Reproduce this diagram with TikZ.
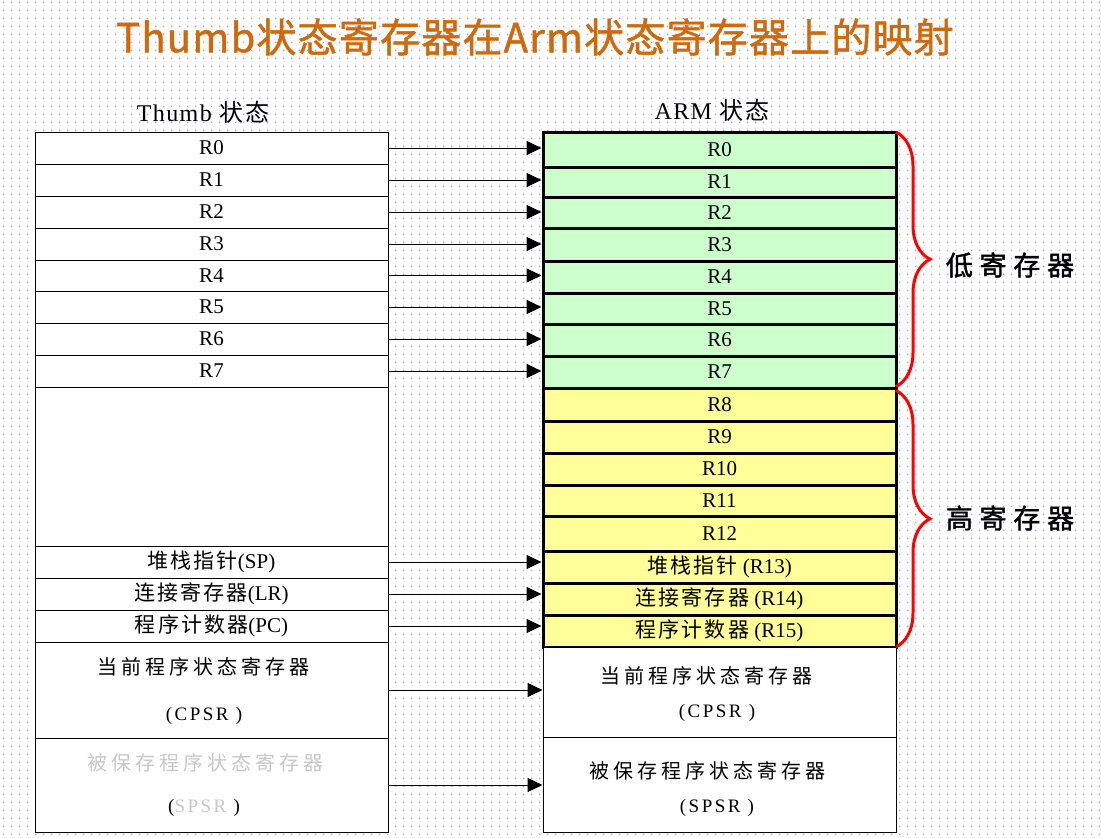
\documentclass[tikz,border=0pt]{standalone}
\usepackage{fontspec}
\setmainfont{Liberation Serif}
\newfontfamily\cjk{Noto Sans CJK SC}[LetterSpace=10]
\newfontfamily\cjkw{Noto Sans CJK SC}[LetterSpace=20]
\newfontfamily\cjkh{Noto Sans CJK SC}[LetterSpace=8]
\newfontfamily\cjkb{Noto Sans CJK SC}[LetterSpace=25,FakeBold=1.5]
\newfontfamily\titlefont{Noto Sans CJK SC}[LetterSpace=3,FakeBold=1.2]
\newfontfamily\serifw{Liberation Serif}[LetterSpace=13]
\newfontfamily\serifh{Liberation Serif}[LetterSpace=6]
\usetikzlibrary{arrows.meta,decorations.pathreplacing,patterns.meta}
\definecolor{dotc}{RGB}{165,165,220}
\definecolor{gcol}{RGB}{204,255,204}
\definecolor{ycol}{RGB}{255,255,153}
\definecolor{tcol}{RGB}{206,106,12}
\definecolor{lgrey}{RGB}{200,200,200}
\tikzdeclarepattern{
  name=bgdots,
  type=colored,
  bottom left={(0pt,0pt)},
  top right={(7.5pt,7.5pt)},
  tile size={(7.5pt,7.5pt)},
  code={\fill[dotc] (3pt,3pt) rectangle (4.6pt,4.6pt);}
}
\begin{document}
\begin{tikzpicture}[x=1pt,y=-1pt,
  lrow/.style={draw, line width=1pt, fill=white, minimum width=353pt, inner sep=0pt, font=\fontsize{21}{22}\selectfont},
  rrow/.style={draw, line width=3pt, minimum width=353pt, inner sep=0pt, font=\fontsize{21}{22}\selectfont},
  rbox/.style={draw, line width=1pt, fill=white, minimum width=353pt, inner sep=0pt},
  greenrow/.style={rrow, fill=gcol},
  yellowrow/.style={rrow, fill=ycol},
  arr/.style={line width=1pt, -{Triangle[length=15pt,width=14pt]}},
  brc/.style={draw=red, line width=3pt, decorate, decoration={brace, amplitude=34pt}},
  head/.style={font=\serifh\fontsize{24}{26}\selectfont},
  cjtxt/.style={inner sep=0pt, font=\cjkw\fontsize{20}{22}\selectfont},
  partxt/.style={inner sep=0pt, font=\serifw\fontsize{19}{22}\selectfont},
  side/.style={font=\cjkb\fontsize{27}{30}\selectfont}
]
\useasboundingbox (0,0) rectangle (1101,838);
\fill[white] (0,0) rectangle (1101,838);
\fill[pattern=bgdots] (0,0) rectangle (1101,838);

% title and headers
\node[text=tcol, font=\titlefont\fontsize{40}{44}\selectfont] (title) at (535,37) {Thumb状态寄存器在Arm状态寄存器上的映射};
\node[head] (th) at (203,112) {Thumb {\cjkh 状态}};
\node[head] (ah) at (712,110) {ARM {\cjkh 状态}};

% left column (Thumb)
\node[lrow, minimum height=32pt] (L0) at (211.5,148) {R0};
\node[lrow, minimum height=32pt] (L1) at (211.5,180) {R1};
\node[lrow, minimum height=32pt] (L2) at (211.5,212) {R2};
\node[lrow, minimum height=32pt] (L3) at (211.5,244) {R3};
\node[lrow, minimum height=31pt] (L4) at (211.5,275.5) {R4};
\node[lrow, minimum height=32pt] (L5) at (211.5,307) {R5};
\node[lrow, minimum height=32pt] (L6) at (211.5,339) {R6};
\node[lrow, minimum height=32pt] (L7) at (211.5,371) {R7};
\node[lrow, minimum height=159pt] (LE) at (211.5,466.5) {};
\node[lrow, minimum height=32pt] (LSP) at (211.5,562) {{\cjk 堆栈指针}(SP)};
\node[lrow, minimum height=32pt] (LLR) at (211.5,594) {{\cjk 连接寄存器}(LR)};
\node[lrow, minimum height=32pt] (LPC) at (211.5,626) {{\cjk 程序计数器}(PC)};
\node[lrow, minimum height=96pt] (LC) at (211.5,690) {};
\node[lrow, minimum height=94pt] (LS) at (211.5,785) {};
\node[cjtxt] (LCa) at (203,667) {当前程序状态寄存器};
\node[partxt] (LCb) at (204,716) {(CPSR )};
\node[cjtxt, text=lgrey] (LSa) at (205,763) {被保存程序状态寄存器};
\node[partxt] (LSb) at (204,808) {(\textcolor{lgrey}{SPSR} )};

% right column (ARM)
\node[greenrow, minimum height=35pt] (R0) at (719.5,149.5) {R0};
\node[greenrow, minimum height=30pt] (R1) at (719.5,182) {\raisebox{-2pt}{R1}};
\node[greenrow, minimum height=31pt] (R2) at (719.5,212.5) {R2};
\node[greenrow, minimum height=33pt] (R3) at (719.5,244.5) {\raisebox{-1pt}{R3}};
\node[greenrow, minimum height=32pt] (R4) at (719.5,277) {R4};
\node[greenrow, minimum height=31pt] (R5) at (719.5,308.5) {R5};
\node[greenrow, minimum height=32pt] (R6) at (719.5,340) {\raisebox{-2pt}{R6}};
\node[greenrow, minimum height=32pt] (R7) at (719.5,372) {\raisebox{-4pt}{R7}};
\node[yellowrow, minimum height=33pt] (R8) at (719.5,404.5) {R8};
\node[yellowrow, minimum height=32pt] (R9) at (719.5,437) {R9};
\node[yellowrow, minimum height=32pt] (R10) at (719.5,469) {R10};
\node[yellowrow, minimum height=31pt] (R11) at (719.5,500.5) {R11};
\node[yellowrow, minimum height=35pt] (R12) at (719.5,533.5) {R12};
\node[yellowrow, minimum height=32pt] (R13) at (719.5,567) {\raisebox{-2pt}{{\cjk 堆栈指针} (R13)}};
\node[yellowrow, minimum height=32pt] (R14) at (719.5,599) {{\cjk 连接寄存器} (R14)};
\node[yellowrow, minimum height=32pt] (R15) at (719.5,631) {{\cjk 程序计数器} (R15)};
\node[rbox, minimum height=90pt] (RC) at (719.5,692) {};
\node[rbox, minimum height=95pt] (RS) at (719.5,784.5) {};
\node[cjtxt] (RCa) at (706,676) {当前程序状态寄存器};
\node[partxt] (RCb) at (717,713) {(CPSR )};
\node[cjtxt] (RSa) at (707,771) {被保存程序状态寄存器};
\node[partxt] (RSb) at (717,808) {(SPSR )};

% arrows
\foreach \a/\b in {L0/R0,L1/R1,L2/R2,L3/R3,L4/R4,L5/R5,L6/R6,L7/R7,LSP/R13,LLR/R14,LPC/R15,LC/RC,LS/RS}
  \draw[arr] (\a.east) -- (\a.east -| \b.west);

% braces
\draw[brc] ([xshift=-1.5pt,yshift=-1.5pt]R0.north east) -- ([xshift=-1.5pt,yshift=3pt]R7.south east);
\draw[brc] ([xshift=-1.5pt,yshift=-4pt]R8.north east) -- ([xshift=-1.5pt,yshift=1.5pt]R15.south east);
\node[side] (low) at (1010,265) {低寄存器};
\node[side] (high) at (1010,518) {高寄存器};
\end{tikzpicture}
\end{document}
